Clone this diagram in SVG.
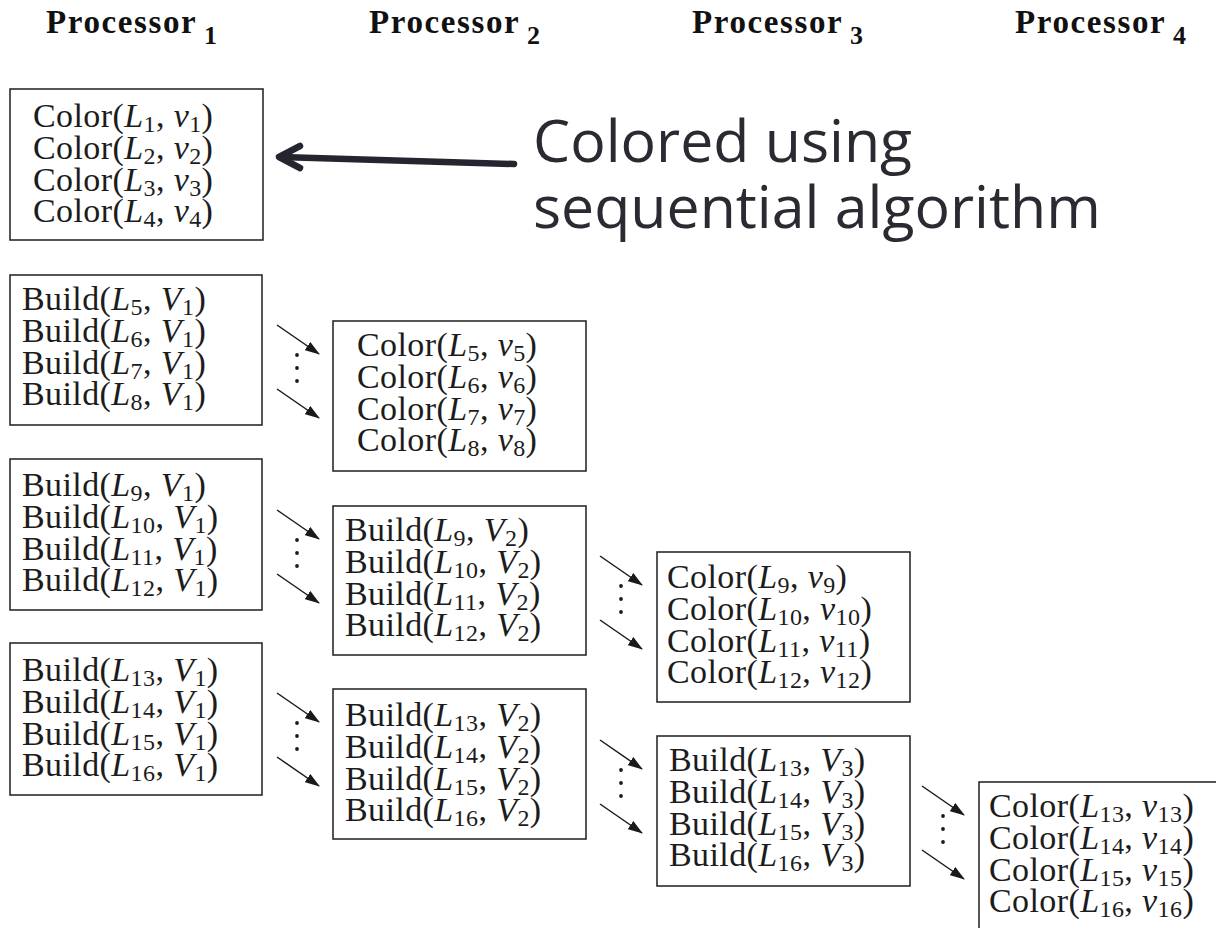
<svg xmlns="http://www.w3.org/2000/svg" width="1216" height="928" viewBox="0 0 1216 928">
  <style>
    .box { fill: #ffffff; stroke: #2b2b2b; stroke-width: 1.6; }
    .t { font-family: "Liberation Serif", "Times New Roman", serif; font-size: 34px; fill: #1c1c1c; letter-spacing: 0.4px; }
    .i { font-style: italic; }
    .s { font-size: 24px; font-style: normal; }
    .hd { font-family: "Liberation Serif", "Times New Roman", serif; font-weight: bold; font-size: 33px; fill: #111; letter-spacing: 1.6px; }
    .hs { font-family: "Liberation Serif", "Times New Roman", serif; font-weight: bold; font-size: 26px; fill: #111; }
    .note { font-family: "Open Sans", "DejaVu Sans", sans-serif; font-size: 59px; fill: #2a2a33; }
    .link { stroke: #1a1a1a; stroke-width: 1.5; fill: none; marker-end: url(#ah); }
    .dot { fill: #1a1a1a; }
    .big { stroke: #25252f; stroke-width: 6.5; fill: none; stroke-linecap: round; stroke-linejoin: round; }
  </style>
  <defs>
    <marker id="ah" viewBox="0 0 15 10" refX="14" refY="5" markerWidth="15" markerHeight="10" orient="auto" markerUnits="userSpaceOnUse">
      <path d="M0,0 L15,5 L0,10 z" fill="#1a1a1a"/>
    </marker>
  </defs>

  <rect width="1216" height="928" fill="#ffffff"/>

  <!-- column headings -->
  <g id="headings">
    <text class="hd" x="46" y="33">Processor</text><text class="hs" x="204" y="44">1</text>
    <text class="hd" x="369" y="33">Processor</text><text class="hs" x="527" y="44">2</text>
    <text class="hd" x="692" y="33">Processor</text><text class="hs" x="850" y="44">3</text>
    <text class="hd" x="1015" y="33">Processor</text><text class="hs" x="1173" y="44">4</text>
  </g>

  <!-- Processor 1, block 1: colouring of L1..L4 -->
  <g id="color-1-4" transform="translate(10,89)">
    <rect class="box" x="0" y="0" width="253" height="151"/>
    <text class="t" x="23" y="38">Color(<tspan class="i">L</tspan><tspan class="s" dy="5">1</tspan><tspan dy="-5">, </tspan><tspan class="i">v</tspan><tspan class="s" dy="5">1</tspan><tspan dy="-5">)</tspan></text>
    <text class="t" x="23" y="69.8">Color(<tspan class="i">L</tspan><tspan class="s" dy="5">2</tspan><tspan dy="-5">, </tspan><tspan class="i">v</tspan><tspan class="s" dy="5">2</tspan><tspan dy="-5">)</tspan></text>
    <text class="t" x="23" y="101.6">Color(<tspan class="i">L</tspan><tspan class="s" dy="5">3</tspan><tspan dy="-5">, </tspan><tspan class="i">v</tspan><tspan class="s" dy="5">3</tspan><tspan dy="-5">)</tspan></text>
    <text class="t" x="23" y="133.4">Color(<tspan class="i">L</tspan><tspan class="s" dy="5">4</tspan><tspan dy="-5">, </tspan><tspan class="i">v</tspan><tspan class="s" dy="5">4</tspan><tspan dy="-5">)</tspan></text>
  </g>

  <!-- Processor 1, block 2 -->
  <g id="build-5-8-v1" transform="translate(10,275)">
    <rect class="box" x="0" y="0" width="252" height="150"/>
    <text class="t" x="12" y="35">Build(<tspan class="i">L</tspan><tspan class="s" dy="5">5</tspan><tspan dy="-5">, </tspan><tspan class="i">V</tspan><tspan class="s" dy="5">1</tspan><tspan dy="-5">)</tspan></text>
    <text class="t" x="12" y="66.8">Build(<tspan class="i">L</tspan><tspan class="s" dy="5">6</tspan><tspan dy="-5">, </tspan><tspan class="i">V</tspan><tspan class="s" dy="5">1</tspan><tspan dy="-5">)</tspan></text>
    <text class="t" x="12" y="98.6">Build(<tspan class="i">L</tspan><tspan class="s" dy="5">7</tspan><tspan dy="-5">, </tspan><tspan class="i">V</tspan><tspan class="s" dy="5">1</tspan><tspan dy="-5">)</tspan></text>
    <text class="t" x="12" y="130.4">Build(<tspan class="i">L</tspan><tspan class="s" dy="5">8</tspan><tspan dy="-5">, </tspan><tspan class="i">V</tspan><tspan class="s" dy="5">1</tspan><tspan dy="-5">)</tspan></text>
  </g>

  <!-- Processor 1, block 3 -->
  <g id="build-9-12-v1" transform="translate(10,459)">
    <rect class="box" x="0" y="0" width="252" height="151"/>
    <text class="t" x="12" y="37">Build(<tspan class="i">L</tspan><tspan class="s" dy="5">9</tspan><tspan dy="-5">, </tspan><tspan class="i">V</tspan><tspan class="s" dy="5">1</tspan><tspan dy="-5">)</tspan></text>
    <text class="t" x="12" y="68.8">Build(<tspan class="i">L</tspan><tspan class="s" dy="5">10</tspan><tspan dy="-5">, </tspan><tspan class="i">V</tspan><tspan class="s" dy="5">1</tspan><tspan dy="-5">)</tspan></text>
    <text class="t" x="12" y="100.6">Build(<tspan class="i">L</tspan><tspan class="s" dy="5">11</tspan><tspan dy="-5">, </tspan><tspan class="i">V</tspan><tspan class="s" dy="5">1</tspan><tspan dy="-5">)</tspan></text>
    <text class="t" x="12" y="132.4">Build(<tspan class="i">L</tspan><tspan class="s" dy="5">12</tspan><tspan dy="-5">, </tspan><tspan class="i">V</tspan><tspan class="s" dy="5">1</tspan><tspan dy="-5">)</tspan></text>
  </g>

  <!-- Processor 1, block 4 -->
  <g id="build-13-16-v1" transform="translate(10,643)">
    <rect class="box" x="0" y="0" width="252" height="152"/>
    <text class="t" x="12" y="38">Build(<tspan class="i">L</tspan><tspan class="s" dy="5">13</tspan><tspan dy="-5">, </tspan><tspan class="i">V</tspan><tspan class="s" dy="5">1</tspan><tspan dy="-5">)</tspan></text>
    <text class="t" x="12" y="69.8">Build(<tspan class="i">L</tspan><tspan class="s" dy="5">14</tspan><tspan dy="-5">, </tspan><tspan class="i">V</tspan><tspan class="s" dy="5">1</tspan><tspan dy="-5">)</tspan></text>
    <text class="t" x="12" y="101.6">Build(<tspan class="i">L</tspan><tspan class="s" dy="5">15</tspan><tspan dy="-5">, </tspan><tspan class="i">V</tspan><tspan class="s" dy="5">1</tspan><tspan dy="-5">)</tspan></text>
    <text class="t" x="12" y="133.4">Build(<tspan class="i">L</tspan><tspan class="s" dy="5">16</tspan><tspan dy="-5">, </tspan><tspan class="i">V</tspan><tspan class="s" dy="5">1</tspan><tspan dy="-5">)</tspan></text>
  </g>

  <!-- Processor 2, block 1: colouring of L5..L8 -->
  <g id="color-5-8" transform="translate(333,321)">
    <rect class="box" x="0" y="0" width="253" height="150"/>
    <text class="t" x="24" y="35">Color(<tspan class="i">L</tspan><tspan class="s" dy="5">5</tspan><tspan dy="-5">, </tspan><tspan class="i">v</tspan><tspan class="s" dy="5">5</tspan><tspan dy="-5">)</tspan></text>
    <text class="t" x="24" y="66.8">Color(<tspan class="i">L</tspan><tspan class="s" dy="5">6</tspan><tspan dy="-5">, </tspan><tspan class="i">v</tspan><tspan class="s" dy="5">6</tspan><tspan dy="-5">)</tspan></text>
    <text class="t" x="24" y="98.6">Color(<tspan class="i">L</tspan><tspan class="s" dy="5">7</tspan><tspan dy="-5">, </tspan><tspan class="i">v</tspan><tspan class="s" dy="5">7</tspan><tspan dy="-5">)</tspan></text>
    <text class="t" x="24" y="130.4">Color(<tspan class="i">L</tspan><tspan class="s" dy="5">8</tspan><tspan dy="-5">, </tspan><tspan class="i">v</tspan><tspan class="s" dy="5">8</tspan><tspan dy="-5">)</tspan></text>
  </g>

  <!-- Processor 2, block 2 -->
  <g id="build-9-12-v2" transform="translate(333,506)">
    <rect class="box" x="0" y="0" width="253" height="149"/>
    <text class="t" x="12" y="35">Build(<tspan class="i">L</tspan><tspan class="s" dy="5">9</tspan><tspan dy="-5">, </tspan><tspan class="i">V</tspan><tspan class="s" dy="5">2</tspan><tspan dy="-5">)</tspan></text>
    <text class="t" x="12" y="66.8">Build(<tspan class="i">L</tspan><tspan class="s" dy="5">10</tspan><tspan dy="-5">, </tspan><tspan class="i">V</tspan><tspan class="s" dy="5">2</tspan><tspan dy="-5">)</tspan></text>
    <text class="t" x="12" y="98.6">Build(<tspan class="i">L</tspan><tspan class="s" dy="5">11</tspan><tspan dy="-5">, </tspan><tspan class="i">V</tspan><tspan class="s" dy="5">2</tspan><tspan dy="-5">)</tspan></text>
    <text class="t" x="12" y="130.4">Build(<tspan class="i">L</tspan><tspan class="s" dy="5">12</tspan><tspan dy="-5">, </tspan><tspan class="i">V</tspan><tspan class="s" dy="5">2</tspan><tspan dy="-5">)</tspan></text>
  </g>

  <!-- Processor 2, block 3 -->
  <g id="build-13-16-v2" transform="translate(333,689)">
    <rect class="box" x="0" y="0" width="253" height="150"/>
    <text class="t" x="12" y="37">Build(<tspan class="i">L</tspan><tspan class="s" dy="5">13</tspan><tspan dy="-5">, </tspan><tspan class="i">V</tspan><tspan class="s" dy="5">2</tspan><tspan dy="-5">)</tspan></text>
    <text class="t" x="12" y="68.8">Build(<tspan class="i">L</tspan><tspan class="s" dy="5">14</tspan><tspan dy="-5">, </tspan><tspan class="i">V</tspan><tspan class="s" dy="5">2</tspan><tspan dy="-5">)</tspan></text>
    <text class="t" x="12" y="100.6">Build(<tspan class="i">L</tspan><tspan class="s" dy="5">15</tspan><tspan dy="-5">, </tspan><tspan class="i">V</tspan><tspan class="s" dy="5">2</tspan><tspan dy="-5">)</tspan></text>
    <text class="t" x="12" y="132.4">Build(<tspan class="i">L</tspan><tspan class="s" dy="5">16</tspan><tspan dy="-5">, </tspan><tspan class="i">V</tspan><tspan class="s" dy="5">2</tspan><tspan dy="-5">)</tspan></text>
  </g>

  <!-- Processor 3, block 1: colouring of L9..L12 -->
  <g id="color-9-12" transform="translate(657,552)">
    <rect class="box" x="0" y="0" width="253" height="150"/>
    <text class="t" x="10" y="36">Color(<tspan class="i">L</tspan><tspan class="s" dy="5">9</tspan><tspan dy="-5">, </tspan><tspan class="i">v</tspan><tspan class="s" dy="5">9</tspan><tspan dy="-5">)</tspan></text>
    <text class="t" x="10" y="67.8">Color(<tspan class="i">L</tspan><tspan class="s" dy="5">10</tspan><tspan dy="-5">, </tspan><tspan class="i">v</tspan><tspan class="s" dy="5">10</tspan><tspan dy="-5">)</tspan></text>
    <text class="t" x="10" y="99.6">Color(<tspan class="i">L</tspan><tspan class="s" dy="5">11</tspan><tspan dy="-5">, </tspan><tspan class="i">v</tspan><tspan class="s" dy="5">11</tspan><tspan dy="-5">)</tspan></text>
    <text class="t" x="10" y="131.4">Color(<tspan class="i">L</tspan><tspan class="s" dy="5">12</tspan><tspan dy="-5">, </tspan><tspan class="i">v</tspan><tspan class="s" dy="5">12</tspan><tspan dy="-5">)</tspan></text>
  </g>

  <!-- Processor 3, block 2 -->
  <g id="build-13-16-v3" transform="translate(657,736)">
    <rect class="box" x="0" y="0" width="253" height="150"/>
    <text class="t" x="12" y="35">Build(<tspan class="i">L</tspan><tspan class="s" dy="5">13</tspan><tspan dy="-5">, </tspan><tspan class="i">V</tspan><tspan class="s" dy="5">3</tspan><tspan dy="-5">)</tspan></text>
    <text class="t" x="12" y="66.8">Build(<tspan class="i">L</tspan><tspan class="s" dy="5">14</tspan><tspan dy="-5">, </tspan><tspan class="i">V</tspan><tspan class="s" dy="5">3</tspan><tspan dy="-5">)</tspan></text>
    <text class="t" x="12" y="98.6">Build(<tspan class="i">L</tspan><tspan class="s" dy="5">15</tspan><tspan dy="-5">, </tspan><tspan class="i">V</tspan><tspan class="s" dy="5">3</tspan><tspan dy="-5">)</tspan></text>
    <text class="t" x="12" y="130.4">Build(<tspan class="i">L</tspan><tspan class="s" dy="5">16</tspan><tspan dy="-5">, </tspan><tspan class="i">V</tspan><tspan class="s" dy="5">3</tspan><tspan dy="-5">)</tspan></text>
  </g>

  <!-- Processor 4, block 1: colouring of L13..L16 (runs past the right edge) -->
  <g id="color-13-16" transform="translate(979,782)">
    <rect class="box" x="0" y="0" width="260" height="170"/>
    <text class="t" x="10" y="35">Color(<tspan class="i">L</tspan><tspan class="s" dy="5">13</tspan><tspan dy="-5">, </tspan><tspan class="i">v</tspan><tspan class="s" dy="5">13</tspan><tspan dy="-5">)</tspan></text>
    <text class="t" x="10" y="66.8">Color(<tspan class="i">L</tspan><tspan class="s" dy="5">14</tspan><tspan dy="-5">, </tspan><tspan class="i">v</tspan><tspan class="s" dy="5">14</tspan><tspan dy="-5">)</tspan></text>
    <text class="t" x="10" y="98.6">Color(<tspan class="i">L</tspan><tspan class="s" dy="5">15</tspan><tspan dy="-5">, </tspan><tspan class="i">v</tspan><tspan class="s" dy="5">15</tspan><tspan dy="-5">)</tspan></text>
    <text class="t" x="10" y="130.4">Color(<tspan class="i">L</tspan><tspan class="s" dy="5">16</tspan><tspan dy="-5">, </tspan><tspan class="i">v</tspan><tspan class="s" dy="5">16</tspan><tspan dy="-5">)</tspan></text>
  </g>

  <!-- annotation -->
  <g id="note">
    <text class="note" x="533" y="162">Colored using</text>
    <text class="note" x="533" y="228">sequential algorithm</text>
  </g>

  <!-- connectors: hand-offs between processors, plus the annotation pointer -->
  <g id="connectors">
    <!-- into color-5-8 -->
    <line class="link" x1="277" y1="325" x2="319" y2="354"/>
    <line class="link" x1="277" y1="389" x2="319" y2="418"/>
    <circle class="dot" cx="297" cy="355" r="1.9"/><circle class="dot" cx="297" cy="368" r="1.9"/><circle class="dot" cx="297" cy="381" r="1.9"/>
    <!-- into build-9-12-v2 -->
    <line class="link" x1="277" y1="510" x2="319" y2="539"/>
    <line class="link" x1="277" y1="574" x2="319" y2="603"/>
    <circle class="dot" cx="297" cy="540" r="1.9"/><circle class="dot" cx="297" cy="553" r="1.9"/><circle class="dot" cx="297" cy="566" r="1.9"/>
    <!-- into build-13-16-v2 -->
    <line class="link" x1="277" y1="693" x2="319" y2="722"/>
    <line class="link" x1="277" y1="757" x2="319" y2="786"/>
    <circle class="dot" cx="297" cy="723" r="1.9"/><circle class="dot" cx="297" cy="736" r="1.9"/><circle class="dot" cx="297" cy="749" r="1.9"/>
    <!-- into color-9-12 -->
    <line class="link" x1="600" y1="556" x2="642" y2="585"/>
    <line class="link" x1="600" y1="620" x2="642" y2="649"/>
    <circle class="dot" cx="621" cy="586" r="1.9"/><circle class="dot" cx="621" cy="599" r="1.9"/><circle class="dot" cx="621" cy="612" r="1.9"/>
    <!-- into build-13-16-v3 -->
    <line class="link" x1="600" y1="740" x2="642" y2="769"/>
    <line class="link" x1="600" y1="804" x2="642" y2="833"/>
    <circle class="dot" cx="621" cy="770" r="1.9"/><circle class="dot" cx="621" cy="783" r="1.9"/><circle class="dot" cx="621" cy="796" r="1.9"/>
    <!-- into color-13-16 -->
    <line class="link" x1="922" y1="786" x2="964" y2="815"/>
    <line class="link" x1="922" y1="850" x2="964" y2="879"/>
    <circle class="dot" cx="943" cy="816" r="1.9"/><circle class="dot" cx="943" cy="829" r="1.9"/><circle class="dot" cx="943" cy="842" r="1.9"/>
    <!-- annotation pointer -->
    <path class="big" d="M514,164 L281,157"/>
    <path class="big" d="M300,146 L279,157 L300,168"/>
  </g>
</svg>
